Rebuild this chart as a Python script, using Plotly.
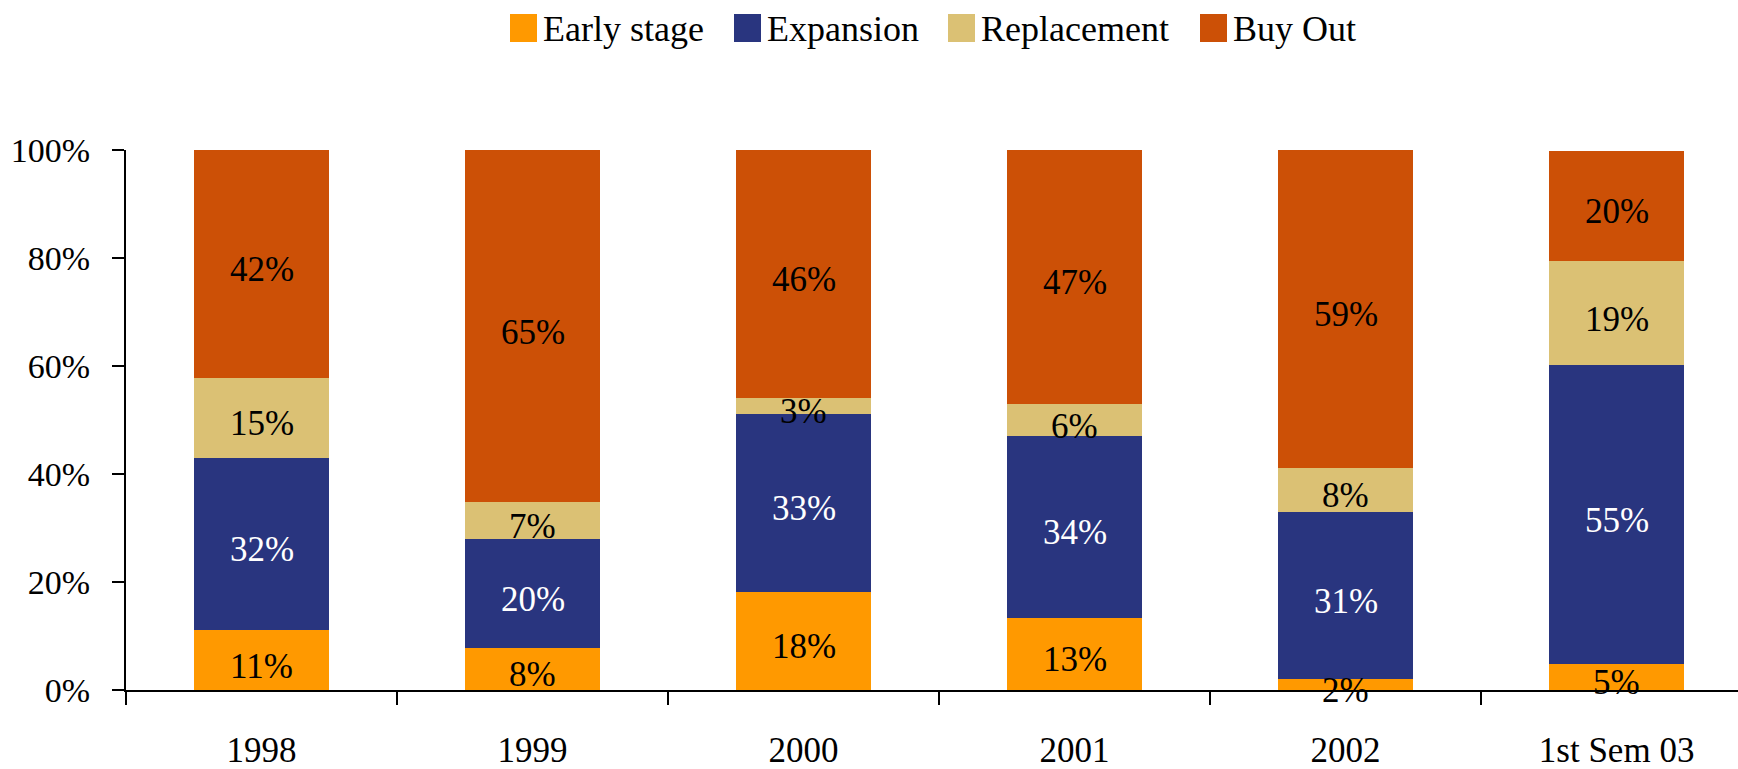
import plotly.graph_objects as go

categories = ["1998", "1999", "2000", "2001", "2002", "1st Sem 03"]
early_stage = [11.1, 7.8, 18.2, 13.4, 2.0, 4.9]
expansion = [31.9, 20.1, 33.0, 33.6, 31.0, 55.2]
replacement = [14.8, 6.9, 2.9, 6.0, 8.2, 19.4]
buy_out = [42.2, 65.2, 45.9, 47.0, 58.8, 20.4]

series_names = ["Early stage", "Expansion", "Replacement", "Buy Out"]
series_values = [early_stage, expansion, replacement, buy_out]
series_colors = ["#FF9900", "#29357F", "#DBC174", "#CC5006"]
label_colors = ["black", "white", "black", "black"]

FONT = "Liberation Serif, Times New Roman, serif"

W, H = 1738, 769
ML, MR, MT, MB = 126, 0, 150, 79
PW, PH = W - ML - MR, H - MT - MB

fig = go.Figure()
for name, vals, col in zip(series_names, series_values, series_colors):
    fig.add_trace(go.Bar(x=categories, y=vals, name=name, marker_color=col,
                         marker_line_width=0, hoverinfo="skip", showlegend=False))

annotations = []
# value labels at segment centres (computed from the data); x = category index
for i, cat in enumerate(categories):
    base = 0.0
    for vals, tc in zip(series_values, label_colors):
        v = vals[i]
        annotations.append(dict(x=i, y=base + v / 2, xref="x", yref="y",
                                text=f"{round(v):.0f}%", showarrow=False, yshift=-6,
                                xanchor="center", yanchor="middle",
                                font=dict(family=FONT, size=35, color=tc)))
        base += v

# legend drawn as large squares + labels (pixel layout of the legend row)
legend_square_px = [510, 734, 948, 1200]
legend_square_size = 27
legend_center_py = 28


def px2x(px):
    return (px - ML) / PW


def py2y(py):
    return (H - MB - py) / PH


shapes = []
for name, col, sx in zip(series_names, series_colors, legend_square_px):
    shapes.append(dict(type="rect", xref="paper", yref="paper",
                       x0=px2x(sx), x1=px2x(sx + legend_square_size),
                       y0=py2y(legend_center_py + 14), y1=py2y(legend_center_py - 14),
                       fillcolor=col, line_width=0))
    annotations.append(dict(text=name, xref="paper", yref="paper",
                            x=px2x(sx + legend_square_size + 4), y=py2y(legend_center_py + 1),
                            xanchor="left", yanchor="middle", showarrow=False,
                            font=dict(family=FONT, size=36, color="black")))

fig.update_layout(
    barmode="stack",
    bargap=0.5,
    width=W, height=H,
    margin=dict(l=ML, r=MR, t=MT, b=MB, autoexpand=False),
    plot_bgcolor="white", paper_bgcolor="white",
    font=dict(family=FONT, color="black"),
    showlegend=False,
    shapes=shapes,
    annotations=annotations,
    xaxis=dict(type="category", range=[-0.5, 5.448], showline=True, linecolor="black",
               linewidth=2, ticks="outside", tickson="boundaries", ticklen=13, tickwidth=2,
               tickcolor="black", tickfont=dict(family=FONT, size=35),
               ticklabelstandoff=28, showgrid=False, zeroline=False, fixedrange=True,
               automargin=False),
    yaxis=dict(range=[0, 100], dtick=20, ticksuffix="%", showline=True, linecolor="black",
               linewidth=2, ticks="outside", ticklen=12, tickwidth=2, tickcolor="black",
               tickfont=dict(family=FONT, size=34), ticklabelstandoff=15,
               showgrid=False, zeroline=False, fixedrange=True, automargin=False),
)

fig.write_html("out.html", config={"displayModeBar": False},
               post_script="document.body.style.margin='0';document.body.style.overflow='hidden';")
